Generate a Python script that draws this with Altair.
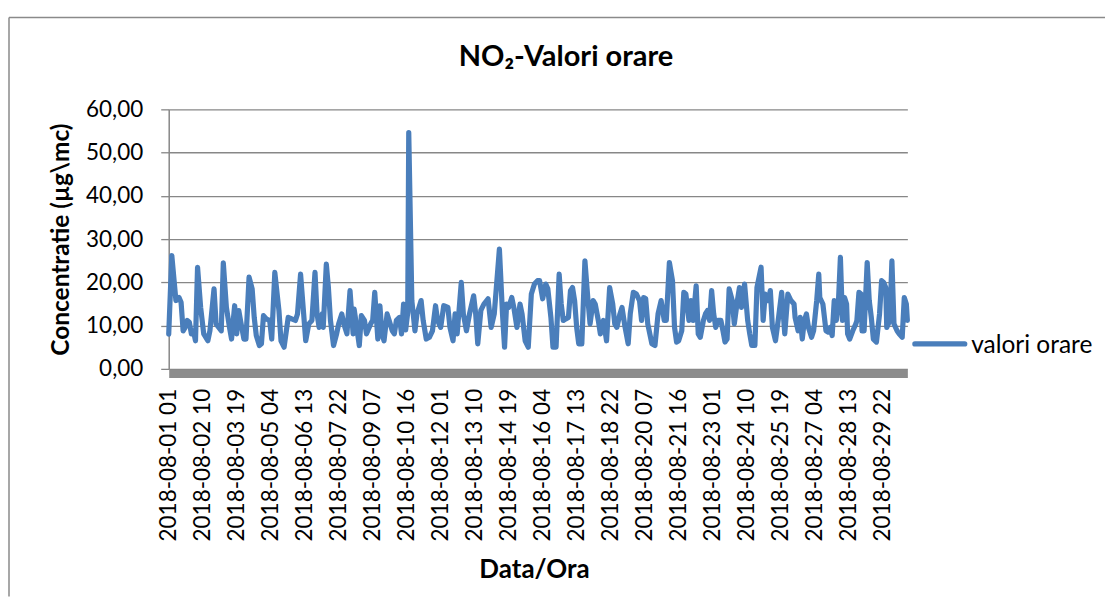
import altair as alt
import pandas as pd

# hour index counted from 2018-08-01 01:00 and NO2 hourly values (µg/mc)
hours = [0, 3, 7, 10, 12, 14, 16, 18, 20, 22, 24, 26, 28, 31, 34, 38, 40, 44, 46, 51,
         53, 56, 59, 61, 64, 66, 68, 70, 73, 75, 78, 81, 83, 85, 88, 90, 92, 95, 98, 100,
         103, 107, 109, 112, 116, 120, 123, 125, 128, 131, 133, 136, 139, 142, 144, 146, 149, 150, 153, 155,
         157, 160, 163, 165, 168, 170, 173, 176, 179, 180, 183, 185, 187, 190, 192, 196, 198, 200, 203, 205,
         207, 209, 212, 214, 217, 219, 221, 224, 226, 228, 230, 232, 233, 236, 239, 241, 245, 247, 250, 253,
         256, 259, 261, 264, 267, 271, 273, 276, 278, 280, 284, 286, 289, 292, 296, 298, 300, 303, 306, 310,
         313, 316, 321, 324, 326, 328, 330, 333, 335, 338, 341, 343, 346, 349, 352, 355, 358, 360, 363, 366,
         368, 371, 373, 376, 379, 381, 383, 385, 388, 390, 392, 394, 396, 398, 401, 404, 407, 409, 412, 414,
         417, 419, 422, 425, 428, 431, 433, 435, 438, 440, 443, 446, 448, 451, 454, 457, 459, 461, 463, 465,
         469, 472, 475, 478, 481, 483, 486, 489, 491, 493, 495, 498, 500, 502, 505, 507, 509, 512, 514, 516,
         519, 521, 523, 525, 527, 529, 531, 533, 536, 538, 540, 542, 544, 547, 549, 552, 554, 556, 559, 562,
         564, 566, 569, 571, 575, 577, 579, 582, 584, 586, 589, 592, 595, 598, 601, 604, 607, 608, 611, 613,
         615, 617, 619, 621, 624, 626, 629, 631, 632, 635, 638, 640, 642, 644, 646, 648, 650, 652, 654, 656,
         658, 659, 661, 664, 667, 668, 670, 672, 673, 675, 678, 680, 682, 684, 687, 690, 692, 694, 696, 697,
         700, 702, 704, 707, 709, 712, 714, 716, 717]

values = [8.0, 26.2, 15.8, 16.5, 15.4, 8.8, 9.6, 11.2, 10.8, 8.1, 8.8, 6.5, 23.5, 14.2, 8.1, 6.5, 8.8, 18.5, 10.4, 8.8,
          24.5, 14.2, 9.6, 6.9, 14.6, 8.1, 13.5, 10.8, 6.9, 6.9, 21.2, 18.5, 11.9, 7.7, 5.4, 5.8, 12.3, 11.5, 11.2, 6.9,
          22.3, 13.5, 6.5, 5.0, 11.9, 11.5, 11.2, 12.7, 21.9, 12.7, 6.5, 10.4, 11.2, 22.3, 12.7, 9.6, 12.7, 9.6, 24.2, 18.8,
          11.2, 5.4, 8.1, 10.4, 12.7, 10.4, 8.1, 18.1, 8.1, 13.8, 8.8, 5.4, 12.3, 11.2, 8.1, 10.4, 11.2, 17.7, 6.9, 14.6,
          8.1, 6.5, 12.7, 11.2, 8.8, 8.1, 11.2, 11.9, 8.1, 15.0, 9.0, 13.0, 54.6, 15.8, 8.8, 12.7, 15.8, 11.2, 6.9, 7.3,
          8.8, 14.6, 11.2, 9.6, 14.6, 14.2, 9.6, 6.5, 12.7, 8.1, 20.0, 12.7, 8.8, 12.7, 16.9, 12.7, 5.8, 13.5, 15.0, 16.2,
          9.6, 12.7, 27.7, 12.7, 5.0, 15.0, 14.2, 16.5, 14.2, 9.6, 15.0, 12.7, 6.5, 5.0, 17.3, 19.6, 20.4, 20.4, 16.2, 19.6,
          18.5, 11.9, 5.0, 5.0, 21.9, 15.0, 11.2, 11.5, 11.9, 18.1, 18.8, 15.8, 9.6, 5.8, 5.8, 25.0, 15.8, 10.4, 15.8, 15.0,
          11.2, 8.1, 11.2, 6.5, 18.8, 15.0, 10.4, 9.6, 12.7, 14.2, 9.6, 5.8, 12.7, 17.7, 17.3, 15.8, 11.2, 16.5, 16.2, 10.4,
          5.8, 5.4, 12.7, 15.8, 11.2, 11.2, 24.6, 20.4, 9.6, 6.2, 6.5, 8.8, 17.7, 17.3, 11.2, 15.8, 11.2, 19.2, 8.1, 7.3,
          11.2, 12.7, 13.5, 11.2, 18.1, 12.7, 9.6, 11.2, 11.2, 8.8, 6.2, 6.9, 18.5, 15.8, 10.4, 15.8, 18.8, 14.2, 19.6, 11.2,
          8.1, 5.4, 5.4, 18.8, 23.5, 11.2, 17.3, 15.8, 18.1, 9.6, 6.5, 11.9, 17.7, 8.1, 17.3, 15.8, 15.0, 11.9, 8.8, 11.9,
          6.9, 11.2, 12.7, 9.6, 7.3, 8.8, 15.8, 21.9, 16.5, 15.0, 8.8, 8.5, 9.6, 7.7, 15.8, 11.2, 15.0, 25.8, 11.2, 16.5,
          15.0, 8.1, 6.9, 8.8, 10.4, 11.2, 17.7, 17.3, 8.8, 8.8, 24.6, 15.8, 11.9, 6.9, 6.2, 12.7, 20.4, 20.0, 18.8, 9.6,
          11.2, 25.0, 10.4, 8.8, 8.1, 7.3, 16.5, 15.0, 11.2]

tick_labels = ["2018-08-01 01", "2018-08-02 10", "2018-08-03 19", "2018-08-05 04", "2018-08-06 13",
               "2018-08-07 22", "2018-08-09 07", "2018-08-10 16", "2018-08-12 01", "2018-08-13 10",
               "2018-08-14 19", "2018-08-16 04", "2018-08-17 13", "2018-08-18 22", "2018-08-20 07",
               "2018-08-21 16", "2018-08-23 01", "2018-08-24 10", "2018-08-25 19", "2018-08-27 04",
               "2018-08-28 13", "2018-08-29 22"]
tick_step = 33
y_ticks = [0, 10, 20, 30, 40, 50, 60]
series_name = "valori orare"
chart_title = "NO\u2082-Valori orare"

df = pd.DataFrame({"ora": hours, "valoare": values, "serie": series_name})

FONT = "Lato"
GRID = "#878787"
BLUE = "#4A7EBB"
W, H = 740, 260
LW = 5.2

label_expr = "[" + ",".join(f"'{t}'" for t in tick_labels) + f"][round(datum.value / {tick_step})]"

line = alt.Chart(df).mark_line(
    color=BLUE, strokeWidth=LW, strokeJoin="round", strokeCap="round"
).encode(
    x=alt.X("ora:Q",
            scale=alt.Scale(domain=[0, 717], nice=False, zero=False),
            axis=alt.Axis(values=[i * tick_step for i in range(len(tick_labels))],
                          labelExpr=label_expr, labelAngle=270, labelAlign="right",
                          labelBaseline="middle", labelOverlap=False, labelFlush=False,
                          grid=False, ticks=False, domainColor="#8c8c8c", domainWidth=8.5,
                          offset=4.5, labelPadding=15, labelFont=FONT, labelFontSize=22.5,
                          labelColor="black",
                          title="Data/Ora", titleFont=FONT, titleFontSize=26,
                          titleFontWeight="bold", titleColor="black", titleX=366, titleY=204,
                          titleAlign="center", titleBaseline="alphabetic")),
    y=alt.Y("valoare:Q",
            scale=alt.Scale(domain=[0, 60], nice=False),
            axis=alt.Axis(values=y_ticks,
                          labelExpr="replace(format(datum.value, '.2f'), '.', ',')",
                          grid=True, gridColor=GRID, gridWidth=1.3,
                          domainColor=GRID, domainWidth=1.5,
                          ticks=True, tickColor=GRID, tickSize=8, tickWidth=1.3,
                          labelPadding=18, labelFont=FONT, labelFontSize=22.5, labelColor="black",
                          title="Concentratie (\u00b5g\\mc)", titleFont=FONT, titleFontSize=24.5,
                          titleFontWeight="bold", titleColor="black", titleAngle=270,
                          titleX=-100, titleY=130, titleAlign="center",
                          titleBaseline="alphabetic")),
)

title_df = pd.DataFrame({"t": [chart_title]})
title = alt.Chart(title_df).mark_text(
    font=FONT, fontSize=29, fontWeight="bold", color="black",
    align="center", baseline="alphabetic"
).encode(text="t:N", x=alt.value(398), y=alt.value(-43))

legend_df = pd.DataFrame({"s": [series_name]})
legend_line = alt.Chart(legend_df).mark_rule(
    color=BLUE, strokeWidth=LW, strokeCap="round"
).encode(x=alt.value(747.5), x2=alt.value(797.5), y=alt.value(235))
legend_text = alt.Chart(legend_df).mark_text(
    font=FONT, fontSize=24.5, color="black", align="left", baseline="alphabetic"
).encode(text="s:N", x=alt.value(804), y=alt.value(243.7))

FRAME = "#8a8a8a"
frame_top = alt.Chart(legend_df).mark_rule(color=FRAME, strokeWidth=1.5).encode(
    x=alt.value(-160), x2=alt.value(938), y=alt.value(-92))
frame_left = alt.Chart(legend_df).mark_rule(color=FRAME, strokeWidth=1.5).encode(
    x=alt.value(-160), y=alt.value(-92), y2=alt.value(488))

chart = alt.layer(
    frame_top, frame_left, line, title, legend_line, legend_text
).properties(
    width=W, height=H,
    padding={"left": 0, "top": 8, "right": 0, "bottom": 0},
    background="white",
).configure_view(stroke=None)

chart.save("out.html", embed_options={"renderer": "svg", "actions": False})
